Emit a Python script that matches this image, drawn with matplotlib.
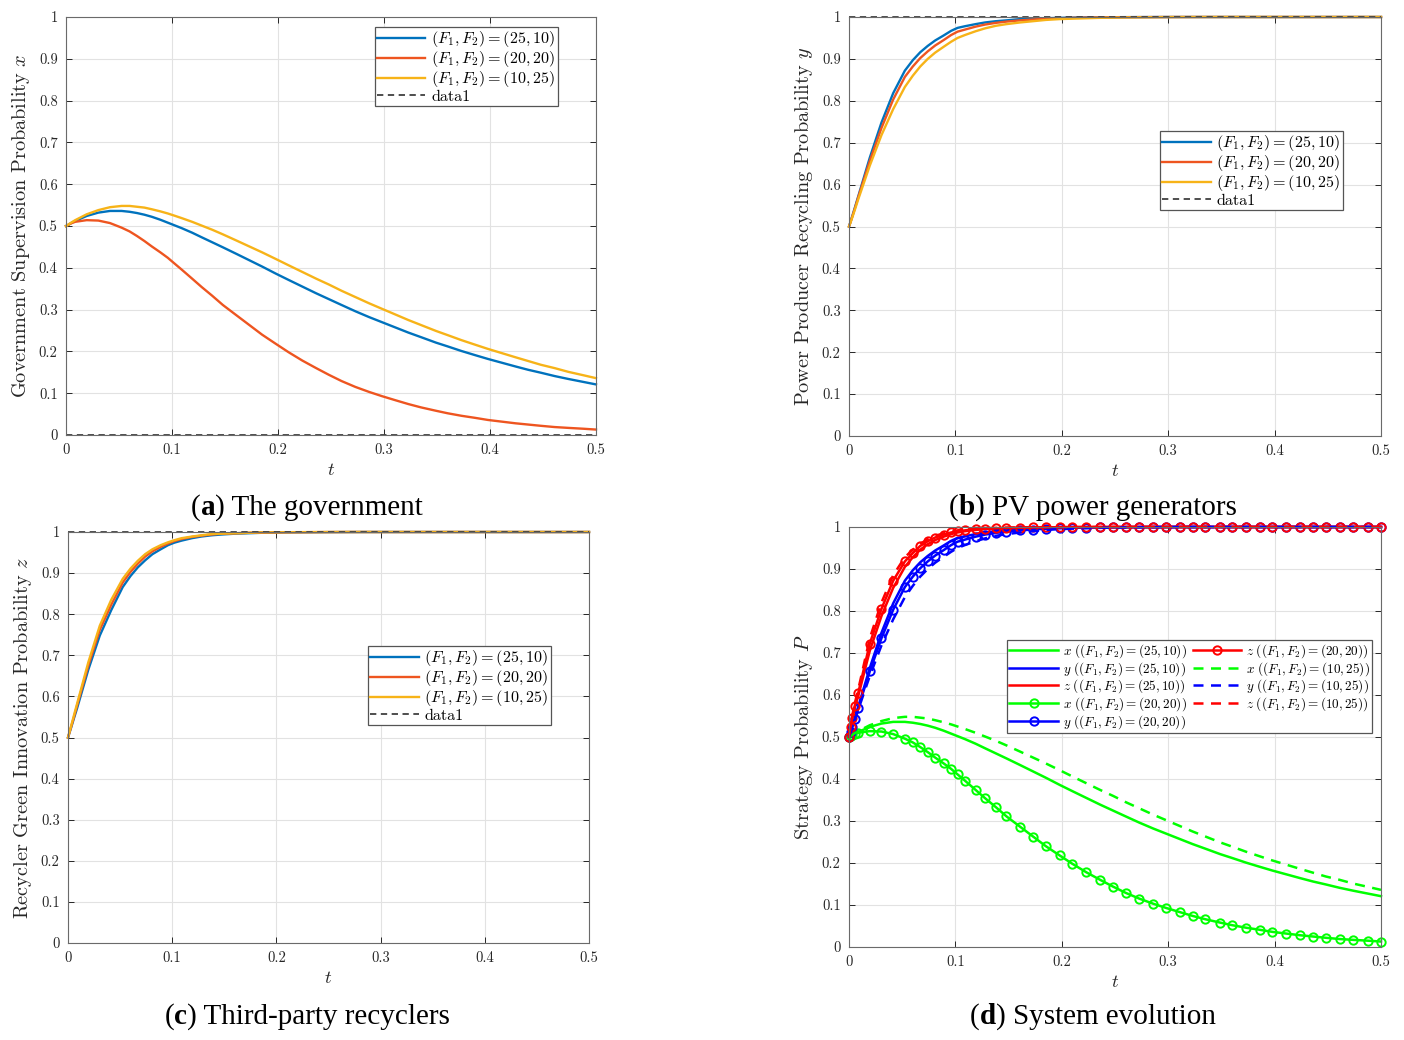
import matplotlib
matplotlib.use('Agg')
import matplotlib.pyplot as plt

plt.rcParams['font.family'] = 'serif'
plt.rcParams['font.serif'] = ['cmr10']
plt.rcParams['mathtext.fontset'] = 'cm'
plt.rcParams['axes.formatter.use_mathtext'] = True

# ---------------- data ----------------
T = [0, 0.0015, 0.003, 0.0055, 0.0087, 0.0195, 0.0305, 0.0415, 0.0525, 0.060,
     0.067, 0.074, 0.081, 0.089, 0.096, 0.102, 0.109, 0.119, 0.128, 0.138,
     0.148, 0.161, 0.173, 0.185, 0.198, 0.210, 0.223, 0.236, 0.248, 0.260,
     0.273, 0.286, 0.298, 0.311, 0.323, 0.335, 0.349, 0.360, 0.373, 0.386,
     0.398, 0.411, 0.424, 0.436, 0.448, 0.461, 0.474, 0.488, 0.500]

x_25_10 = [0.5, 0.502, 0.504, 0.508, 0.512, 0.524, 0.532, 0.536, 0.536, 0.534,
           0.531, 0.527, 0.522, 0.515, 0.508, 0.502, 0.495, 0.484, 0.473, 0.461,
           0.449, 0.433, 0.418, 0.403, 0.386, 0.371, 0.355, 0.339, 0.325, 0.311,
           0.296, 0.282, 0.270, 0.257, 0.245, 0.234, 0.221, 0.212, 0.201, 0.191,
           0.182, 0.173, 0.164, 0.156, 0.149, 0.141, 0.134, 0.127, 0.121]
x_20_20 = [0.5, 0.502, 0.504, 0.507, 0.510, 0.514, 0.513, 0.507, 0.496, 0.487,
           0.476, 0.464, 0.451, 0.437, 0.424, 0.411, 0.396, 0.374, 0.354, 0.333,
           0.311, 0.286, 0.263, 0.240, 0.218, 0.198, 0.178, 0.160, 0.144, 0.129,
           0.115, 0.103, 0.093, 0.083, 0.074, 0.066, 0.058, 0.052, 0.046, 0.041,
           0.036, 0.032, 0.028, 0.025, 0.022, 0.019, 0.017, 0.015, 0.013]
x_10_25 = [0.5, 0.502, 0.505, 0.509, 0.514, 0.528, 0.538, 0.545, 0.548, 0.548,
           0.546, 0.544, 0.540, 0.535, 0.530, 0.525, 0.519, 0.510, 0.501, 0.491,
           0.480, 0.465, 0.451, 0.437, 0.421, 0.406, 0.390, 0.374, 0.360, 0.345,
           0.330, 0.315, 0.302, 0.288, 0.275, 0.263, 0.249, 0.239, 0.227, 0.216,
           0.206, 0.196, 0.186, 0.177, 0.168, 0.160, 0.151, 0.143, 0.136]

y_25_10 = [0.5, 0.512, 0.524, 0.545, 0.572, 0.664, 0.748, 0.818, 0.872, 0.897,
           0.916, 0.931, 0.944, 0.956, 0.967, 0.974, 0.978, 0.983, 0.987, 0.990,
           0.992, 0.995, 0.996, 0.997, 0.998, 0.9985, 0.999, 0.9993, 0.9995, 0.9997,
           0.9998, 0.9999, 1.0, 1.0, 1.0, 1.0, 1.0, 1.0, 1.0, 1.0,
           1.0, 1.0, 1.0, 1.0, 1.0, 1.0, 1.0, 1.0, 1.0]
y_20_20 = [0.5, 0.511, 0.523, 0.543, 0.570, 0.656, 0.735, 0.803, 0.857, 0.882,
           0.902, 0.918, 0.932, 0.945, 0.957, 0.965, 0.970, 0.977, 0.982, 0.986,
           0.989, 0.992, 0.994, 0.996, 0.997, 0.998, 0.9985, 0.999, 0.9993, 0.9995,
           0.9997, 0.9998, 0.9999, 1.0, 1.0, 1.0, 1.0, 1.0, 1.0, 1.0,
           1.0, 1.0, 1.0, 1.0, 1.0, 1.0, 1.0, 1.0, 1.0]
y_10_25 = [0.5, 0.510, 0.521, 0.540, 0.565, 0.645, 0.718, 0.780, 0.833, 0.860,
           0.882, 0.900, 0.915, 0.929, 0.941, 0.950, 0.957, 0.966, 0.973, 0.979,
           0.983, 0.987, 0.990, 0.993, 0.995, 0.996, 0.997, 0.998, 0.9985, 0.999,
           0.9993, 0.9995, 0.9997, 0.9998, 0.9999, 1.0, 1.0, 1.0, 1.0, 1.0,
           1.0, 1.0, 1.0, 1.0, 1.0, 1.0, 1.0, 1.0, 1.0]

# panel (c) recycler curves
zc_25_10 = [0.5, 0.512, 0.524, 0.545, 0.571, 0.665, 0.748, 0.810, 0.866, 0.893,
            0.914, 0.931, 0.946, 0.958, 0.968, 0.974, 0.979, 0.985, 0.989, 0.992,
            0.994, 0.996, 0.997, 0.998, 0.9985, 0.999, 0.9993, 0.9995, 0.9997, 0.9998,
            0.9999, 1.0, 1.0, 1.0, 1.0, 1.0, 1.0, 1.0, 1.0, 1.0,
            1.0, 1.0, 1.0, 1.0, 1.0, 1.0, 1.0, 1.0, 1.0]
zc_20_20 = [0.5, 0.513, 0.526, 0.548, 0.578, 0.675, 0.762, 0.823, 0.877, 0.903,
            0.923, 0.940, 0.953, 0.964, 0.972, 0.978, 0.983, 0.988, 0.991, 0.994,
            0.996, 0.997, 0.998, 0.9985, 0.999, 0.9993, 0.9995, 0.9997, 0.9998, 0.9999,
            1.0, 1.0, 1.0, 1.0, 1.0, 1.0, 1.0, 1.0, 1.0, 1.0,
            1.0, 1.0, 1.0, 1.0, 1.0, 1.0, 1.0, 1.0, 1.0]
zc_10_25 = [0.5, 0.514, 0.528, 0.552, 0.582, 0.683, 0.772, 0.835, 0.886, 0.911,
            0.930, 0.946, 0.958, 0.968, 0.975, 0.980, 0.985, 0.989, 0.992, 0.995,
            0.996, 0.997, 0.998, 0.999, 0.9993, 0.9995, 0.9997, 0.9998, 0.9999, 1.0,
            1.0, 1.0, 1.0, 1.0, 1.0, 1.0, 1.0, 1.0, 1.0, 1.0,
            1.0, 1.0, 1.0, 1.0, 1.0, 1.0, 1.0, 1.0, 1.0]

# panel (d) recycler curves
zd_25_10 = [0.5, 0.521, 0.542, 0.570, 0.598, 0.705, 0.788, 0.855, 0.905, 0.928,
            0.946, 0.959, 0.969, 0.977, 0.983, 0.987, 0.990, 0.993, 0.995, 0.996,
            0.997, 0.998, 0.9985, 0.999, 0.9993, 0.9995, 0.9997, 0.9998, 0.9999, 1.0,
            1.0, 1.0, 1.0, 1.0, 1.0, 1.0, 1.0, 1.0, 1.0, 1.0,
            1.0, 1.0, 1.0, 1.0, 1.0, 1.0, 1.0, 1.0, 1.0]
zd_20_20 = [0.5, 0.523, 0.546, 0.575, 0.605, 0.722, 0.805, 0.872, 0.918, 0.938,
            0.955, 0.966, 0.975, 0.982, 0.987, 0.990, 0.992, 0.995, 0.996, 0.997,
            0.998, 0.9985, 0.999, 0.9993, 0.9995, 0.9997, 0.9998, 0.9999, 1.0, 1.0,
            1.0, 1.0, 1.0, 1.0, 1.0, 1.0, 1.0, 1.0, 1.0, 1.0,
            1.0, 1.0, 1.0, 1.0, 1.0, 1.0, 1.0, 1.0, 1.0]
zd_10_25 = [0.5, 0.525, 0.550, 0.581, 0.613, 0.735, 0.820, 0.885, 0.928, 0.946,
            0.960, 0.971, 0.979, 0.985, 0.989, 0.992, 0.994, 0.996, 0.997, 0.998,
            0.9985, 0.999, 0.9993, 0.9995, 0.9997, 0.9998, 0.9999, 1.0, 1.0, 1.0,
            1.0, 1.0, 1.0, 1.0, 1.0, 1.0, 1.0, 1.0, 1.0, 1.0,
            1.0, 1.0, 1.0, 1.0, 1.0, 1.0, 1.0, 1.0, 1.0]

data1_a = [0.0, 0.0]
data1_bc = [1.0, 1.0]
T_ends = [0.0, 0.5]

XTICKS = [0, 0.1, 0.2, 0.3, 0.4, 0.5]
XTICK_LABELS = ['0', '0.1', '0.2', '0.3', '0.4', '0.5']
YTICKS = [0, 0.1, 0.2, 0.3, 0.4, 0.5, 0.6, 0.7, 0.8, 0.9, 1.0]
YTICK_LABELS = ['0', '0.1', '0.2', '0.3', '0.4', '0.5', '0.6', '0.7', '0.8', '0.9', '1']

CASES = [r'$(F_1, F_2) = (25, 10)$', r'$(F_1, F_2) = (20, 20)$', r'$(F_1, F_2) = (10, 25)$']
CASE_SHORT = [r'$((F_1, F_2) = (25, 10))$', r'$((F_1, F_2) = (20, 20))$', r'$((F_1, F_2) = (10, 25))$']

C_BLUE, C_ORANGE, C_YELLOW = '#0072BD', '#EE5520', '#F7B318'
C_G, C_B, C_R = '#00FF00', '#0000FF', '#FF0000'

# ---------------- figure ----------------
W, H = 1404, 1040
fig = plt.figure(figsize=(W / 100, H / 100), dpi=100)


def px_axes(l, t, r, b):
    return fig.add_axes([l / W, 1 - b / H, (r - l) / W, (b - t) / H])


def style(ax, ylabel):
    ax.set_xlim(0, 0.5)
    ax.set_ylim(0, 1)
    ax.set_xticks(XTICKS)
    ax.set_xticklabels(XTICK_LABELS)
    ax.set_yticks(YTICKS)
    ax.set_yticklabels(YTICK_LABELS)
    ax.grid(True, color='#e2e2e2', lw=0.8)
    ax.set_axisbelow(True)
    ax.tick_params(direction='in', length=4, width=0.7, top=True, right=True,
                   labelsize=10.5, colors='#262626', pad=6)
    for s in ax.spines.values():
        s.set_color('#6a6a6a')
        s.set_linewidth(0.8)
    ax.set_xlabel('$t$', fontsize=13.5, labelpad=3, color='#262626')
    ax.set_ylabel(ylabel, fontsize=14.6, color='#262626', labelpad=5)


def legend(ax, anchor, fs=11.6, hl=3.0, ncol=1, ls=0.0):
    leg = ax.legend(loc='upper right', bbox_to_anchor=anchor, borderaxespad=0,
                    fontsize=fs, handlelength=hl, fancybox=False, edgecolor='#555555',
                    framealpha=1, borderpad=0.15, labelspacing=ls, handletextpad=0.35,
                    ncol=ncol, columnspacing=0.45)
    leg.get_frame().set_linewidth(0.9)
    return leg


lw = 1.7
dash_kw = dict(color='#404040', lw=1.3, linestyle=(0, (3.5, 2.5)), clip_on=False)

# (a)
axa = px_axes(66, 17, 596, 435)
axa.plot(T, x_25_10, color=C_BLUE, lw=lw, label=CASES[0], clip_on=False)
axa.plot(T, x_20_20, color=C_ORANGE, lw=lw, label=CASES[1], clip_on=False)
axa.plot(T, x_10_25, color=C_YELLOW, lw=lw, label=CASES[2], clip_on=False)
axa.plot(T_ends, data1_a, label='data1', **dash_kw)
style(axa, r'Government Supervision Probability $x$')
legend(axa, (0.928, 0.976))

# (b)
axb = px_axes(849, 17, 1381, 436)
axb.plot(T, y_25_10, color=C_BLUE, lw=lw, label=CASES[0], clip_on=False)
axb.plot(T, y_20_20, color=C_ORANGE, lw=lw, label=CASES[1], clip_on=False)
axb.plot(T, y_10_25, color=C_YELLOW, lw=lw, label=CASES[2], clip_on=False)
axb.plot(T_ends, data1_bc, label='data1', **dash_kw)
style(axb, r'Power Producer Recycling Probability $y$')
legend(axb, (0.9286, 0.728))

# (c)
axc = px_axes(68, 532, 589, 943)
axc.plot(T, zc_25_10, color=C_BLUE, lw=lw, label=CASES[0], clip_on=False)
axc.plot(T, zc_20_20, color=C_ORANGE, lw=lw, label=CASES[1], clip_on=False)
axc.plot(T, zc_10_25, color=C_YELLOW, lw=lw, label=CASES[2], clip_on=False)
axc.plot(T_ends, data1_bc, label='data1', **dash_kw)
style(axc, r'Recycler Green Innovation Probability $z$')
legend(axc, (0.927, 0.7226))

# (d)
axd = px_axes(849, 527, 1381, 947)
lwd = 1.8
mk = dict(marker='o', markersize=6, markerfacecolor='none', markeredgewidth=1.4)
dd = (0, (4, 3))
axd.plot(T, x_25_10, color=C_G, lw=lwd, label=r'$x\ $' + CASE_SHORT[0], clip_on=False)
axd.plot(T, y_25_10, color=C_B, lw=lwd, label=r'$y\ $' + CASE_SHORT[0], clip_on=False)
axd.plot(T, zd_25_10, color=C_R, lw=lwd, label=r'$z\ $' + CASE_SHORT[0], clip_on=False)
axd.plot(T, x_20_20, color=C_G, lw=lwd, label=r'$x\ $' + CASE_SHORT[1], clip_on=False, **mk)
axd.plot(T, y_20_20, color=C_B, lw=lwd, label=r'$y\ $' + CASE_SHORT[1], clip_on=False, **mk)
axd.plot(T, zd_20_20, color=C_R, lw=lwd, label=r'$z\ $' + CASE_SHORT[1], clip_on=False, **mk)
axd.plot(T, x_10_25, color=C_G, lw=lwd, ls=dd, label=r'$x\ $' + CASE_SHORT[2], clip_on=False)
axd.plot(T, y_10_25, color=C_B, lw=lwd, ls=dd, label=r'$y\ $' + CASE_SHORT[2], clip_on=False)
axd.plot(T, zd_10_25, color=C_R, lw=lwd, ls=dd, label=r'$z\ $' + CASE_SHORT[2], clip_on=False)
style(axd, r'Strategy Probability $P$')
legend(axd, (0.983, 0.731), fs=9.5, hl=3.7, ncol=2, ls=0.0)

# ---------------- captions ----------------
renderer = fig.canvas.get_renderer()
CAP_FONT = dict(family='Liberation Serif', fontsize=21, color='black', va='baseline')


def caption(cx, base_y, letter, rest):
    pieces = [('(', 'normal'), (letter, 'bold'), (') ' + rest, 'normal')]
    texts = []
    for s, wgt in pieces:
        t = fig.text(0, 1 - base_y / H, s, fontweight=wgt, **CAP_FONT)
        texts.append(t)
    widths = [t.get_window_extent(renderer).width for t in texts]
    x = cx - sum(widths) / 2
    for t, w in zip(texts, widths):
        t.set_x(x / W)
        x += w


caption(307, 515, 'a', 'The government')
caption(1093, 515, 'b', 'PV power generators')
caption(307, 1024, 'c', 'Third-party recyclers')
caption(1093, 1024, 'd', 'System evolution')

fig.savefig('out.png', dpi=100)
